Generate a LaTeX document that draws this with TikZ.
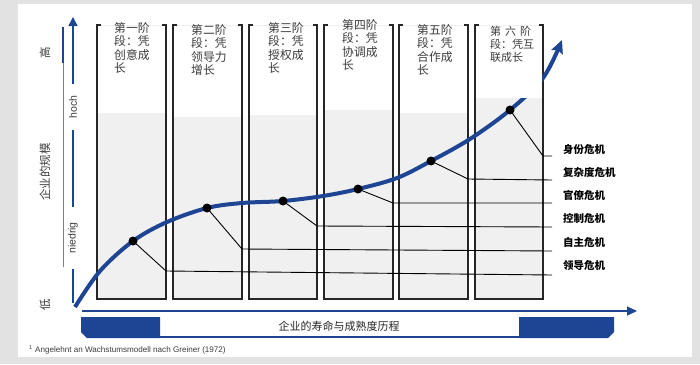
\documentclass[tikz,border=0pt]{standalone}
\usepackage{fontspec}
\setmainfont{Noto Sans CJK SC}
\newfontfamily\latinfont{Liberation Sans}
\usetikzlibrary{arrows.meta, positioning, calc}
\definecolor{navy}{RGB}{30, 68, 148}
\definecolor{panelgray}{RGB}{226, 226, 226}
\definecolor{colgray}{RGB}{240, 240, 240}
\definecolor{darkgray}{RGB}{60, 60, 60}
\definecolor{axisgray}{RGB}{120, 128, 145}
\tikzset{
    stage/.style={draw=black!85, line width=1.1pt},
    stagetext/.style={
        anchor=north west, align=left, inner sep=0pt,
        font=\fontsize{11.8}{13.5}\selectfont, text=darkgray
    },
    dot/.style={circle, fill=black, inner sep=0pt, minimum size=9pt},
    crisis/.style={draw=black, line width=0.9pt},
    crisislabel/.style={anchor=west, inner sep=0pt, font=\fontsize{10.5}{12}\selectfont\bfseries},
    growth/.style={navy, line width=4pt, -{Stealth[length=13pt, width=12pt, inset=2pt]}},
    axislabel/.style={rotate=90, font=\fontsize{11.5}{12}\selectfont, text=darkgray},
    scalelabel/.style={
        rotate=90, fill=white, inner ysep=1pt,
        font=\latinfont\fontsize{10.5}{12}\selectfont, text=darkgray
    }
}

\begin{document}
\begin{tikzpicture}[x=1pt, y=-1pt]
    \useasboundingbox (0,0) rectangle (700,364);
    \fill[panelgray] (0,0) rectangle (700,364);
    \fill[white] (18,4) rectangle (692,357);

    % stage columns
    \foreach \l/\r in {97/166, 173/242, 249/317, 324/393, 399/468, 475/543} {
        \fill[colgray] (\l,25) rectangle (\r,299);
        \draw[stage] (\l+4,25) -- (\l,25) -- (\l,299) -- (\r,299) -- (\r,25) -- (\r-4,25);
    }

    % growth curve
    \draw[growth] plot[smooth, tension=0.55] coordinates {
        (75,307) (100,271) (133,241) (167,222) (207,208) (242,203) (283,201)
        (323,196) (358,189) (397,178) (431,161) (470,139) (510,110) (543,78) (562,40)};

    % white text areas, drawn over the curve
    \foreach \l/\r/\g in {97/166/113, 173/242/117, 249/317/115, 324/393/110, 399/468/113, 475/543/98}
        \fill[white] (\l+0.6,25.6) rectangle (\r-0.6,\g);

    \node[stagetext] (s1) at (114,22) {第一阶\\段：凭\\创意成\\长};
    \node[stagetext] (s2) at (191,24) {第二阶\\段：凭\\领导力\\增长};
    \node[stagetext] (s3) at (268,22) {第三阶\\段：凭\\授权成\\长};
    \node[stagetext] (s4) at (342,19) {第四阶\\段：凭\\协调成\\长};
    \node[stagetext] (s5) at (417,24) {第五阶\\段：凭\\合作成\\长};
    \node[stagetext, font=\fontsize{11}{13}\selectfont] (s6) at (490,26) {第\hspace{4pt}六\hspace{4pt}阶\\段：凭互\\联成长};

    % crisis points
    \node[dot] (d1) at (133,241) {};
    \node[dot] (d2) at (207,208) {};
    \node[dot] (d3) at (283,201) {};
    \node[dot] (d4) at (358,189) {};
    \node[dot] (d5) at (431,161) {};
    \node[dot] (d6) at (510,110) {};

    \coordinate (c1) at (166,271); \coordinate (e1) at (552,275);
    \coordinate (c2) at (242,249); \coordinate (e2) at (552,251);
    \coordinate (c3) at (317,226); \coordinate (e3) at (552,227);
    \coordinate (c4) at (393,203); \coordinate (e4) at (552,203);
    \coordinate (c5) at (468,179); \coordinate (e5) at (552,180);
    \coordinate (c6) at (543,156); \coordinate (e6) at (552,156);

    \foreach \i in {1,...,6}
        \draw[crisis] (d\i.center) -- (c\i) -- (e\i);

    \node[crisislabel] (k6) at (563,150) {身份危机};
    \node[crisislabel] (k5) at (563,172) {复杂度危机};
    \node[crisislabel] (k4) at (563,195) {官僚危机};
    \node[crisislabel] (k3) at (563,218) {控制危机};
    \node[crisislabel] (k2) at (563,242) {自主危机};
    \node[crisislabel] (k1) at (563,266) {领导危机};

    % size axis
    \coordinate (yo) at (73,303);
    \coordinate (ye) at (73,17);
    \draw[navy, line width=1.3pt, -{Triangle[length=9pt, width=9pt]}] (yo) -- (ye);
    \node[scalelabel, inner xsep=12pt] (hoch) at (73,107) {hoch};
    \node[scalelabel, inner xsep=15pt] (niedrig) at (73,238) {niedrig};
    \draw[axisgray, line width=0.7pt] (63,27) -- (63,267);
    \draw[navy, line width=2.5pt] (63,27) -- (63,63);
    \node[axislabel] (high) at (45,53) {高};
    \node[axislabel] (size) at (45,172) {企业的规模};
    \node[axislabel] (low) at (45,305) {低};

    % time axis
    \coordinate (xo) at (82,311);
    \coordinate (xe) at (637,311);
    \draw[navy, line width=1.3pt, -{Triangle[length=10pt, width=9pt]}] (xo) -- (xe);
    \fill[navy] (81,317) -- (160,317) -- (160,338) -- (87,338) -- (81,332) -- cycle;
    \fill[navy] (519,317) -- (614,317) -- (614,332) -- (608,338) -- (519,338) -- cycle;
    \draw[navy, line width=1.5pt] (160,337) -- (519,337);
    \node[font=\fontsize{11}{12}\selectfont, text=black!85] (life) at (339,326) {企业的寿命与成熟度历程};

    \node[anchor=west, inner sep=0pt, text=darkgray, font=\latinfont\fontsize{8.1}{9}\selectfont] (src)
        at (29,350) {\textsuperscript{1} Angelehnt an Wachstumsmodell nach Greiner (1972)};
\end{tikzpicture}
\end{document}
